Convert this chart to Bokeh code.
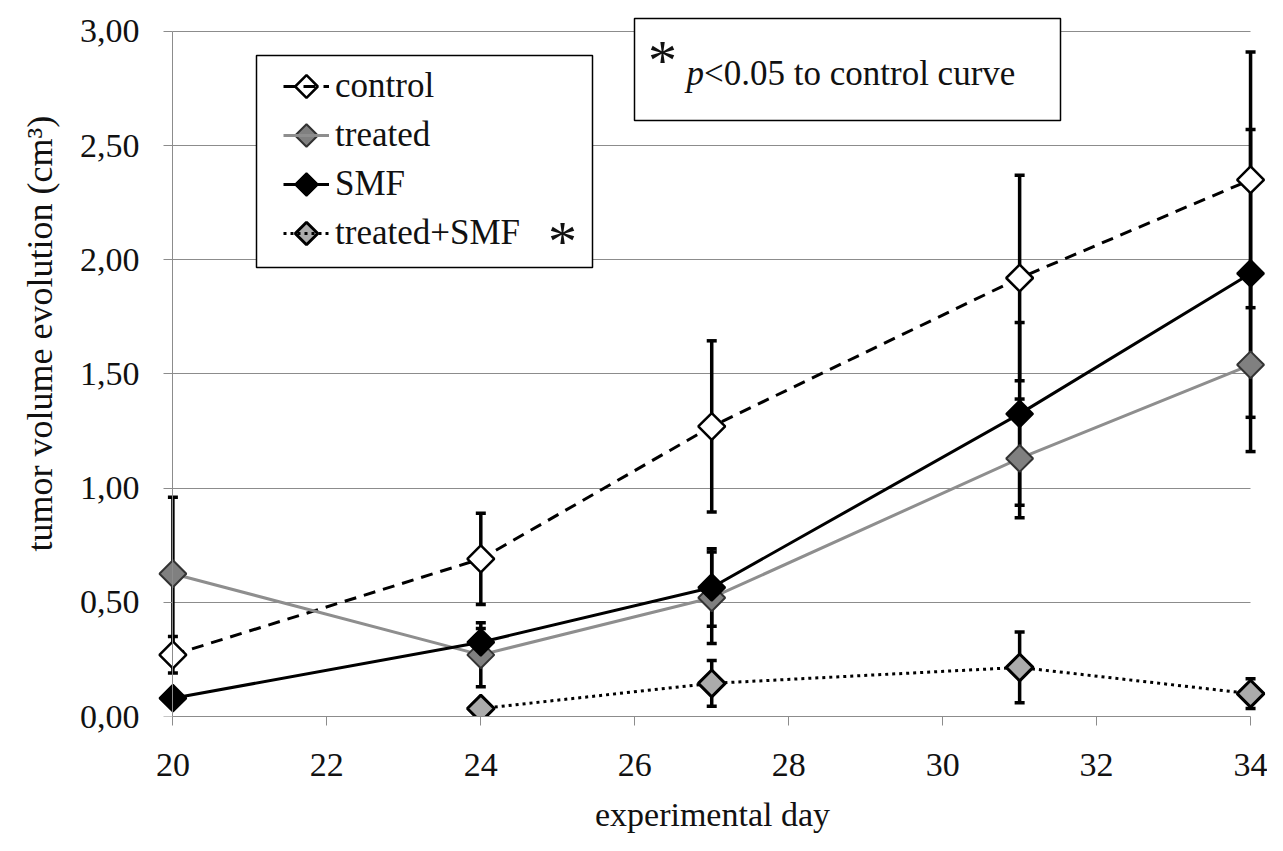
import math
from bokeh.plotting import figure
from bokeh.models import (ColumnDataSource, Whisker, TeeHead, Legend, LegendItem, Label,
                          BoxAnnotation, FixedTicker, LinearAxis, Range1d, Title)
from bokeh.embed import file_html
from bokeh.resources import INLINE

# ---------------- data ----------------
days_control = [20, 24, 27, 31, 34]
control = [0.27, 0.69, 1.27, 1.92, 2.35]
control_err = [0.08, 0.20, 0.375, 0.45, 0.56]

days_treated = [20, 24, 27, 31, 34]
treated = [0.625, 0.27, 0.52, 1.13, 1.54]
treated_err = [0.335, 0.14, 0.20, 0.26, 0.38]

days_smf = [20, 24, 27, 31, 34]
smf = [0.08, 0.325, 0.565, 1.325, 1.94]
smf_err = [0.03, 0.06, 0.17, 0.40, 0.63]

days_tsmf = [24, 27, 31, 34]
tsmf = [0.035, 0.145, 0.215, 0.10]
tsmf_err = [0.02, 0.10, 0.155, 0.065]

series_names = ["control", "treated", "SMF", "treated+SMF"]

y_ticks = [0.0, 0.5, 1.0, 1.5, 2.0, 2.5, 3.0]
y_tick_labels = ["0,00", "0,50", "1,00", "1,50", "2,00", "2,50", "3,00"]
x_ticks = [20, 22, 24, 26, 28, 30, 32, 34]

x_title = "experimental day"
y_title = "tumor volume evolution (cm\u00b3)"
note_italic = "p"
note_text = "<0.05 to control curve"

FONT = "Liberation Serif"
GRID = "#8c8c8c"
TXT = "#111111"

# ---------------- figure ----------------
W, H = 1267, 835
BL, BR, BT, BB = 157, 0, 8, 119
FW, FH = W - BL - BR, H - BT - BB

p = figure(width=W, height=H, output_backend="svg", toolbar_location=None,
           x_range=(19.8, 34.22), y_range=(0, 3.1),
           min_border_left=BL, min_border_right=BR, min_border_top=BT, min_border_bottom=BB,
           background_fill_color="white", border_fill_color="white")
p.outline_line_color = None
p.xgrid.visible = False
p.ygrid.grid_line_color = GRID
p.ygrid.grid_line_width = 1
p.ygrid.cross_bounds = (20, 34)
p.extra_x_ranges = {"px": Range1d(0, FW)}
p.extra_y_ranges = {"px": Range1d(0, FH)}

xaxis = p.xaxis[0]
yaxis = p.yaxis[0]
xaxis.ticker = FixedTicker(ticks=x_ticks)
yaxis.ticker = FixedTicker(ticks=y_ticks)
xaxis.bounds = (20, 34)
yaxis.bounds = (0, 3)
yaxis.fixed_location = 20
for ax in (xaxis, yaxis):
    ax.axis_line_color = GRID
    ax.axis_line_width = 1
    ax.major_tick_line_color = GRID
    ax.major_tick_line_width = 1
    ax.major_tick_out = 9
    ax.major_tick_in = 0
    ax.minor_tick_line_color = None
    ax.major_label_text_font = FONT
    ax.major_label_text_font_style = "normal"
    ax.major_label_text_color = TXT
xaxis.major_label_text_font_size = "34px"
xaxis.major_label_standoff = 28
xaxis.axis_label = x_title
xaxis.axis_label_text_font = FONT
xaxis.axis_label_text_font_size = "34px"
xaxis.axis_label_text_font_style = "normal"
xaxis.axis_label_text_color = TXT
xaxis.axis_label_standoff = 17
# the axis drawn at day 20 carries the line and ticks only
yaxis.major_label_text_font_size = "1px"
yaxis.major_label_text_alpha = 0
yaxis.major_label_standoff = 0

# label-only axis on the left carrying the tick labels
lab_axis = LinearAxis(ticker=FixedTicker(ticks=y_ticks),
                      major_label_overrides=dict(zip(y_ticks, y_tick_labels)),
                      axis_line_color=None, major_tick_line_color=None,
                      minor_tick_line_color=None, major_tick_out=0, major_tick_in=0,
                      major_label_standoff=18, major_label_text_font=FONT,
                      major_label_text_font_style="normal",
                      major_label_text_font_size="34px", major_label_text_color=TXT)
p.add_layout(lab_axis, "left")

# y title, placed in the left panel
p.add_layout(Title(text=y_title, align="left", offset=165, standoff=33,
                   vertical_align="bottom", text_font=FONT, text_font_size="36px",
                   text_font_style="normal", text_color=TXT), "left")

# ---------------- lines ----------------
line_styles = [dict(line_color="black", line_width=3, line_dash="12 8"),
               dict(line_color="#8e8e8e", line_width=3),
               dict(line_color="black", line_width=3),
               dict(line_color="black", line_width=3, line_dash="3 4")]
marker_styles = [dict(fill_color="white", line_color="black", line_width=2.5),
                 dict(fill_color="#808080", line_color="#333333", line_width=2),
                 dict(fill_color="black", line_color="black", line_width=2),
                 dict(fill_color="#ababab", line_color="black", line_width=3)]
series = [(days_control, control, control_err), (days_treated, treated, treated_err),
          (days_smf, smf, smf_err), (days_tsmf, tsmf, tsmf_err)]

lines = [p.line(xs, ys, **st) for (xs, ys, _), st in zip(series, line_styles)]

# ---------------- error bars ----------------
for xs, ys, es in series:
    src = ColumnDataSource(dict(x=xs,
                                upper=[v + e for v, e in zip(ys, es)],
                                lower=[v - e for v, e in zip(ys, es)]))
    w = Whisker(source=src, base="x", upper="upper", lower="lower", dimension="height",
                line_color="black", line_width=3.5, level="underlay",
                upper_head=TeeHead(size=10, line_width=3.5, line_color="black"),
                lower_head=TeeHead(size=10, line_width=3.5, line_color="black"))
    p.add_layout(w)

# ---------------- boxes (beneath glyphs) ----------------
def screen_box(left, right, top, bottom):
    return BoxAnnotation(left=left, right=right, top=top, bottom=bottom,
                         left_units="screen", right_units="screen",
                         top_units="screen", bottom_units="screen",
                         fill_color="white", fill_alpha=1, line_color="black",
                         line_width=1.5, line_alpha=1, level="underlay")

p.add_layout(screen_box(99, 435, 661, 449))     # legend frame
p.add_layout(screen_box(477, 903, 698, 596))    # note frame

# ---------------- markers ----------------
rot = math.pi / 4
for (xs, ys, _), st in zip(series, marker_styles):
    p.scatter(xs, ys, marker="square", size=19, angle=rot, **st)

# ---------------- legend ----------------
LEG_X, LEG_Y, GW, GH, SP = 126, 463, 46, 40, 9
legend = Legend(items=[LegendItem(label=n, renderers=[r]) for n, r in zip(series_names, lines)],
                location=(LEG_X, LEG_Y), orientation="vertical", padding=0, margin=0,
                spacing=SP, glyph_width=GW, glyph_height=GH, label_height=GH,
                label_standoff=6, label_text_font=FONT, label_text_font_style="normal",
                label_text_font_size="35px", label_text_color=TXT,
                background_fill_alpha=0, border_line_alpha=0, level="underlay")
p.add_layout(legend)

# diamond symbols of the legend, drawn over the legend lines
n = len(series_names)
for k, st in enumerate(marker_styles):
    cy = LEG_Y + GH / 2 + (n - 1 - k) * (GH + SP)
    p.scatter([LEG_X + GW / 2], [cy], x_range_name="px", y_range_name="px",
              marker="square", size=16, angle=rot, **st)

# ---------------- asterisks & note text ----------------
p.add_layout(Label(x=405, y=475.5, x_units="screen", y_units="screen", text="*",
                   text_font=FONT, text_font_style="normal", text_font_size="58px",
                   text_align="center", text_baseline="middle", text_color=TXT))
p.add_layout(Label(x=505, y=656.5, x_units="screen", y_units="screen", text="*",
                   text_font=FONT, text_font_style="normal", text_font_size="58px",
                   text_align="center", text_baseline="middle", text_color=TXT))
p.add_layout(Label(x=529, y=643, x_units="screen", y_units="screen", text=note_italic,
                   text_font=FONT, text_font_style="italic", text_font_size="35px",
                   text_align="left", text_baseline="middle", text_color=TXT))
p.add_layout(Label(x=546.5, y=643, x_units="screen", y_units="screen", text=note_text,
                   text_font=FONT, text_font_style="normal", text_font_size="35px",
                   text_align="left", text_baseline="middle", text_color=TXT))

open("out.html", "w").write(file_html(p, INLINE))
